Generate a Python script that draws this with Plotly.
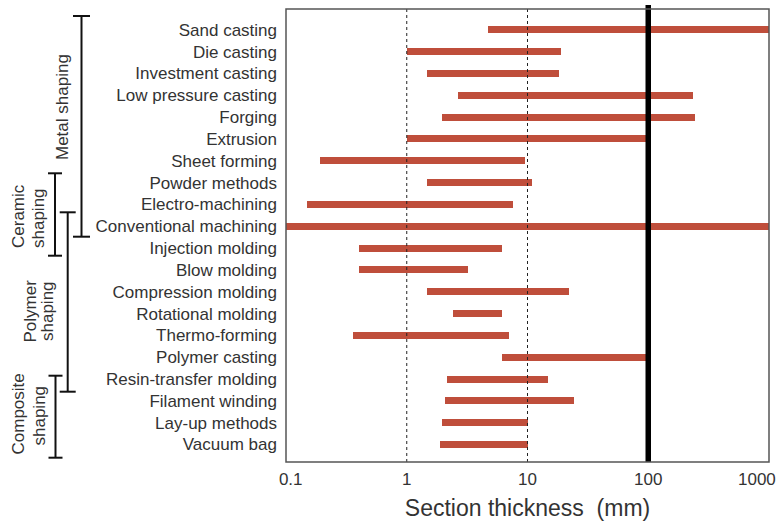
import math
import plotly.graph_objects as go

processes = ["Sand casting", "Die casting", "Investment casting", "Low pressure casting",
             "Forging", "Extrusion", "Sheet forming", "Powder methods", "Electro-machining",
             "Conventional machining", "Injection molding", "Blow molding",
             "Compression molding", "Rotational molding", "Thermo-forming",
             "Polymer casting", "Resin-transfer molding", "Filament winding",
             "Lay-up methods", "Vacuum bag"]
thk_min = [4.7, 1.0, 1.46, 2.67, 1.94, 1.0, 0.19, 1.46, 0.15, 0.1, 0.405, 0.405,
           1.46, 2.43, 0.356, 6.1, 2.14, 2.07, 1.94, 1.88]
thk_max = [1000, 19.1, 18.2, 235, 246, 100, 9.6, 10.9, 7.6, 1000, 6.1, 3.23,
           22, 6.1, 7.0, 100, 14.8, 24.4, 10, 10]
x_ticks = [0.1, 1, 10, 100, 1000]
x_tick_labels = ["0.1", "1", "10", "100", "1000"]
gridline_values = [1, 10]
highlight_value = 100
groups = ["Metal shaping", "Ceramic shaping", "Polymer shaping", "Composite shaping"]

FONT = "Liberation Sans, Arial, sans-serif"
TXT = "#333333"
W, H = 780, 521
ML, MR, MT, MB = 286, 11, 9, 59
PW, PH = W - ML - MR, H - MT - MB


def px(xp):
    return (xp - ML) / PW


def py(yp):
    return (H - MB - yp) / PH


idx = list(range(len(processes)))
fig = go.Figure()
fig.add_trace(go.Bar(
    y=idx, base=thk_min, x=[b - a for a, b in zip(thk_min, thk_max)],
    orientation="h", width=0.32, marker=dict(color="#BF4E3B", line=dict(width=0)),
    hoverinfo="skip", showlegend=False))

shapes = []
for g in gridline_values:
    shapes.append(dict(type="line", xref="x", yref="paper", x0=g, x1=g, y0=0, y1=1,
                       line=dict(color="#222222", width=1, dash="dot"), layer="above"))
shapes.append(dict(type="line", xref="x", yref="paper", x0=highlight_value, x1=highlight_value,
                   y0=0, y1=py(5), line=dict(color="black", width=5.5), layer="above"))
shapes.append(dict(type="rect", xref="paper", yref="paper", x0=0, x1=1, y0=0, y1=1,
                   line=dict(color="#555555", width=1.5), layer="above"))

# group brackets: (x of spine, top, bottom, cap half-width) in pixels
brackets = [(81.5, 16, 236.7, 8.5), (55, 173.3, 255.7, 7), (67.7, 212.3, 391.7, 8),
            (55.5, 375.7, 457.7, 7)]
for xs, yt, yb, hw in brackets:
    shapes.append(dict(type="line", xref="paper", yref="paper", x0=px(xs), x1=px(xs),
                       y0=py(yt), y1=py(yb), line=dict(color="#111111", width=2)))
    for yy in (yt, yb):
        shapes.append(dict(type="line", xref="paper", yref="paper", x0=px(xs - hw),
                           x1=px(xs + hw), y0=py(yy), y1=py(yy),
                           line=dict(color="#111111", width=2)))

# group labels: (text line, x center, y center) in pixels
label_lines = [("Metal shaping", 62, 107),
               ("Ceramic", 18, 216), ("shaping", 38, 218),
               ("Polymer", 29.5, 311), ("shaping", 47, 311),
               ("Composite", 17.5, 414), ("shaping", 38.5, 416)]
annotations = []
for t, xc, yc in label_lines:
    annotations.append(dict(text=t, xref="paper", yref="paper", x=px(xc), y=py(yc),
                            xanchor="center", yanchor="middle", textangle=-90,
                            showarrow=False, font=dict(family=FONT, size=17, color=TXT)))

# edge tick labels sit inside the frame edges like the original
NB = "\u00a0"
tick_text = list(x_tick_labels)
tick_text[0] = NB * 2 + tick_text[0]
tick_text[-1] = ""
annotations.append(dict(text=x_tick_labels[-1], xref="x", yref="paper",
                        x=math.log10(x_ticks[-1]), y=py(479), xanchor="right",
                        yanchor="middle", xshift=9, showarrow=False,
                        font=dict(family=FONT, size=17, color=TXT)))

fig.update_layout(
    width=W, height=H, margin=dict(l=ML, r=MR, t=MT, b=MB, autoexpand=False),
    paper_bgcolor="white", plot_bgcolor="white",
    bargap=0, shapes=shapes, annotations=annotations,
    font=dict(family=FONT, color=TXT),
    xaxis=dict(type="log", range=[-1, 3], tickvals=x_ticks, ticktext=tick_text,
               showgrid=False, zeroline=False, showline=False, ticks="",
               ticklabelstandoff=5, automargin=False, ticklabeloverflow="allow",
               tickfont=dict(size=17, color=TXT),
               title=dict(text="Section thickness\u00a0\u00a0(mm)",
                          font=dict(size=23, color=TXT), standoff=13)),
    yaxis=dict(range=[19.8, -0.95], tickvals=idx, ticktext=processes,
               showgrid=False, zeroline=False, showline=False, ticks="",
               ticklabelstandoff=8, automargin=False,
               tickfont=dict(size=17, color=TXT)),
)
fig.write_html("out.html", config=dict(displayModeBar=False),
               post_script="document.body.style.margin='0';")
